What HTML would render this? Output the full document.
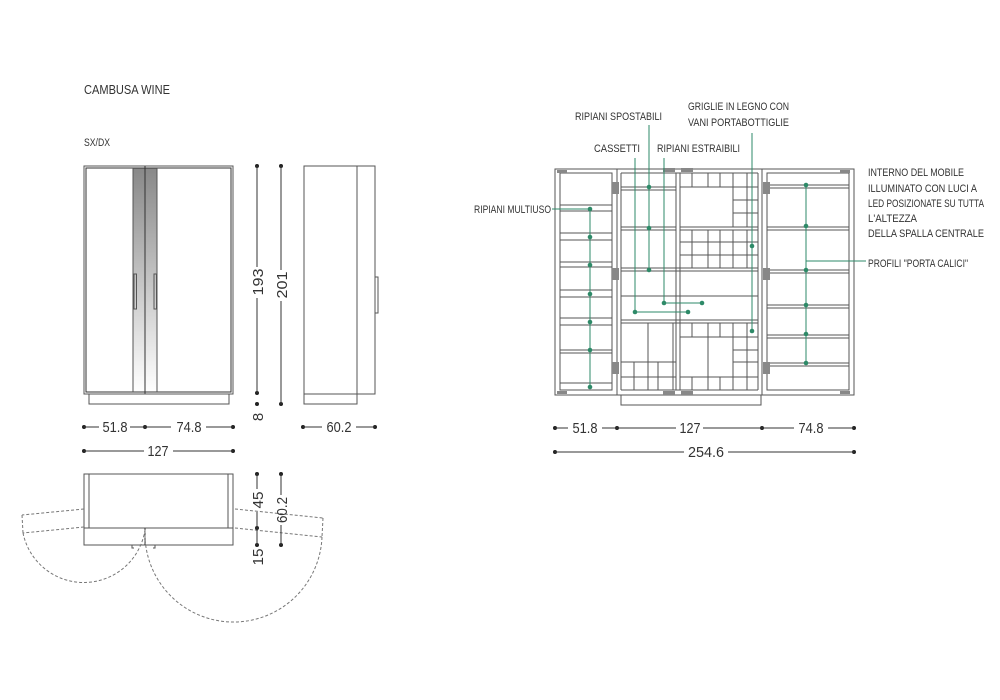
<!DOCTYPE html>
<html><head><meta charset="utf-8"><style>
html,body{margin:0;padding:0;background:#fff;}
svg{display:block;}
.t{font-family:"Liberation Sans",sans-serif;fill:#333;}
.d{font-family:"Liberation Sans",sans-serif;fill:#333;font-size:15px;}
.l{stroke:#555;stroke-width:1;fill:none;}
.k{stroke:#333;stroke-width:1;fill:none;}
.g{stroke:#2e8a68;stroke-width:1;fill:none;}
.gd{fill:#2e8a68;}
.dl{stroke:#333;stroke-width:1;}
</style></head><body>
<svg width="1000" height="700" viewBox="0 0 1000 700" xmlns="http://www.w3.org/2000/svg">
<rect width="1000" height="700" fill="#fff"/>
<text class="t" x="84" y="94" font-size="12.5" textLength="86" lengthAdjust="spacingAndGlyphs">CAMBUSA WINE</text>
<text class="t" x="84" y="146" font-size="11" textLength="26" lengthAdjust="spacingAndGlyphs">SX/DX</text>

<!-- FRONT VIEW -->
<defs><linearGradient id="gr" x1="0" y1="0" x2="0" y2="1"><stop offset="0" stop-color="#888"/><stop offset="1" stop-color="#fff"/></linearGradient></defs>
<rect x="133" y="168" width="24" height="224" fill="url(#gr)"/>
<rect class="l" x="84" y="166" width="149" height="228" stroke="#777"/>
<rect class="k" x="86" y="168" width="145" height="224" stroke-width="1.3"/>
<line class="k" x1="145" y1="166" x2="145" y2="394" stroke-width="1.3"/>
<line class="l" x1="133" y1="168" x2="133" y2="392"/>
<line class="l" x1="157" y1="168" x2="157" y2="392"/>
<rect class="l" x="134" y="274" width="2.5" height="35"/>
<rect class="l" x="154" y="274" width="2.5" height="35"/>
<rect class="l" x="89" y="394" width="140" height="10"/>

<g fill="#222">
<circle cx="257" cy="166" r="2"/><circle cx="257" cy="393" r="2"/><circle cx="257" cy="404" r="2"/>
<circle cx="281" cy="166" r="2"/><circle cx="281" cy="404" r="2"/>
</g>
<line class="dl" x1="257" y1="166" x2="257" y2="267"/><line class="dl" x1="257" y1="298" x2="257" y2="393"/>
<line class="dl" x1="281" y1="166" x2="281" y2="270"/><line class="dl" x1="281" y1="301" x2="281" y2="404"/>
<text class="d" transform="translate(263,282) rotate(-90)" text-anchor="middle" textLength="27" lengthAdjust="spacingAndGlyphs">193</text>
<text class="d" transform="translate(287,285) rotate(-90)" text-anchor="middle" textLength="27" lengthAdjust="spacingAndGlyphs">201</text>
<text class="d" transform="translate(263,417) rotate(-90)" text-anchor="middle">8</text>

<!-- SIDE VIEW -->
<rect class="l" x="304" y="166" width="53" height="228"/>
<rect class="l" x="357" y="166" width="18" height="228"/>
<rect class="l" x="304" y="394" width="53" height="10"/>
<rect class="l" x="375" y="277" width="3" height="36"/>

<g fill="#222">
<circle cx="84" cy="427" r="2"/><circle cx="145" cy="427" r="2"/><circle cx="233" cy="427" r="2"/>
<circle cx="303" cy="427" r="2"/><circle cx="375" cy="427" r="2"/>
<circle cx="84" cy="451" r="2"/><circle cx="233" cy="451" r="2"/>
</g>
<line class="dl" x1="84" y1="427" x2="99" y2="427"/><line class="dl" x1="130" y1="427" x2="171" y2="427"/><line class="dl" x1="206" y1="427" x2="233" y2="427"/>
<line class="dl" x1="303" y1="427" x2="322" y2="427"/><line class="dl" x1="356" y1="427" x2="375" y2="427"/>
<line class="dl" x1="84" y1="451" x2="144" y2="451"/><line class="dl" x1="173" y1="451" x2="233" y2="451"/>
<text class="d" x="115" y="432" text-anchor="middle" textLength="25" lengthAdjust="spacingAndGlyphs">51.8</text>
<text class="d" x="189" y="432" text-anchor="middle" textLength="25" lengthAdjust="spacingAndGlyphs">74.8</text>
<text class="d" x="339" y="432" text-anchor="middle" textLength="25" lengthAdjust="spacingAndGlyphs">60.2</text>
<text class="d" x="158" y="456" text-anchor="middle" textLength="21" lengthAdjust="spacingAndGlyphs">127</text>

<!-- PLAN VIEW -->
<rect class="l" x="84" y="474" width="149" height="54"/>
<line class="l" x1="89" y1="474" x2="89" y2="528"/><line class="l" x1="228" y1="474" x2="228" y2="528"/>
<rect class="l" x="84" y="528" width="149" height="17"/>
<line class="k" x1="145" y1="528" x2="145" y2="545"/>
<path class="l" d="M132 545 v3 h2 M155 545 v3 h-2"/>
<g stroke="#777" stroke-dasharray="3,2" fill="none">
<line x1="84" y1="509" x2="22" y2="515"/><line x1="84" y1="527" x2="23" y2="533"/><line x1="22" y1="515" x2="23" y2="533"/>
<line x1="235" y1="509" x2="323" y2="518"/><line x1="235" y1="528" x2="322" y2="537"/><line x1="323" y1="518" x2="322" y2="537"/>
<path d="M23 533 A62 62 0 0 0 145 530"/>
<path d="M145 530 A88 88 0 0 0 322 537"/>
</g>
<g fill="#222">
<circle cx="257" cy="474" r="2"/><circle cx="257" cy="528" r="2"/><circle cx="257" cy="545" r="2"/>
<circle cx="281" cy="474" r="2"/><circle cx="281" cy="545" r="2"/>
</g>
<line class="dl" x1="257" y1="474" x2="257" y2="489"/><line class="dl" x1="257" y1="512" x2="257" y2="545"/>
<line class="dl" x1="281" y1="474" x2="281" y2="495"/><line class="dl" x1="281" y1="525" x2="281" y2="545"/>
<text class="d" transform="translate(263,500) rotate(-90)" text-anchor="middle" textLength="17" lengthAdjust="spacingAndGlyphs">45</text>
<text class="d" transform="translate(287,510) rotate(-90)" text-anchor="middle" textLength="26" lengthAdjust="spacingAndGlyphs">60.2</text>
<text class="d" transform="translate(263,557) rotate(-90)" text-anchor="middle" textLength="17" lengthAdjust="spacingAndGlyphs">15</text>

<!-- RIGHT: OPEN CABINET -->
<g stroke="#555" fill="none" stroke-width="1">
<rect x="555" y="169" width="62" height="226"/>
<rect x="560" y="173" width="52" height="217"/>
<rect x="617" y="169" width="145" height="226"/>
<rect x="762" y="169" width="92" height="226"/>
<rect x="767" y="173" width="82" height="217"/>
<rect x="621" y="395" width="140" height="10"/>
<line x1="621" y1="173" x2="621" y2="390"/><line x1="758" y1="173" x2="758" y2="390"/>
<line x1="621" y1="173" x2="758" y2="173"/><line x1="621" y1="390" x2="758" y2="390"/>
<line x1="676" y1="173" x2="676" y2="390"/><line x1="680" y1="173" x2="680" y2="390"/>
<path d="M560 205h52M560 211h52M560 233h52M560 240h52M560 262h52M560 267h52M560 290h52M560 297h52M560 318h52M560 325h52M560 350h52M560 353h52M560 383h52"/>
<path d="M767 185h82M767 188h82M767 227h82M767 230h82M767 270h82M767 273h82M767 305h82M767 308h82M767 335h82M767 338h82M767 363h82M767 366h82"/>
<path d="M621 187h55M621 190h55M621 227h55M621 230h55M621 268h137M621 271h137"/>
<rect x="621" y="296" width="137" height="24"/>
<path d="M621 323h137"/>
<path d="M648 323v67M673 323v67M621 362h55M621 377h55M634 362v28M658 362v28"/>
<path d="M680 187h78M692 173v14M708 173v14M720 173v14M733 173v14M747 173v14"/>
<path d="M733 187v40M747 187v40M733 200h25M733 213h25"/>
<path d="M680 227h78M680 230h78M692 230v38M708 230v38M720 230v38M733 230v38M747 230v38M680 242h78M680 255h78"/>
<path d="M692 323v14M708 323v67M720 323v14M733 323v67M747 323v67M680 337h78M733 350h25M733 362h25M680 377h78M692 377v13M720 377v13"/>
</g>
<g fill="#888">
<rect x="612" y="182" width="7" height="12"/><rect x="612" y="268" width="7" height="12"/><rect x="612" y="362" width="7" height="12"/>
<rect x="763" y="182" width="7" height="12"/><rect x="763" y="268" width="7" height="12"/><rect x="763" y="362" width="7" height="12"/>
<rect x="663" y="168" width="12" height="4"/><rect x="681" y="168" width="12" height="4"/>
<rect x="663" y="391" width="12" height="4"/><rect x="681" y="391" width="12" height="4"/>
<rect x="557" y="170" width="10" height="3"/><rect x="840" y="170" width="10" height="3"/>
<rect x="557" y="391" width="10" height="3"/><rect x="840" y="391" width="10" height="3"/>
</g>

<g class="g">
<line x1="590" y1="209" x2="590" y2="387"/><line x1="552" y1="209" x2="590" y2="209"/>
<line x1="649" y1="125" x2="649" y2="270"/>
<line x1="635" y1="158" x2="635" y2="312"/><line x1="635" y1="312" x2="688" y2="312"/>
<line x1="664" y1="158" x2="664" y2="303"/><line x1="664" y1="303" x2="702" y2="303"/>
<line x1="752" y1="133" x2="752" y2="331"/>
<line x1="806" y1="185" x2="806" y2="363"/><line x1="806" y1="261" x2="866" y2="261"/>
</g>
<g class="gd">
<circle cx="590" cy="209" r="2.3"/><circle cx="590" cy="237" r="2.3"/><circle cx="590" cy="265" r="2.3"/><circle cx="590" cy="294" r="2.3"/><circle cx="590" cy="322" r="2.3"/><circle cx="590" cy="350" r="2.3"/><circle cx="590" cy="387" r="2.3"/>
<circle cx="649" cy="187" r="2.3"/><circle cx="649" cy="228" r="2.3"/><circle cx="649" cy="270" r="2.3"/>
<circle cx="635" cy="312" r="2.3"/><circle cx="688" cy="312" r="2.3"/>
<circle cx="664" cy="303" r="2.3"/><circle cx="702" cy="303" r="2.3"/>
<circle cx="752" cy="246" r="2.3"/><circle cx="752" cy="331" r="2.3"/>
<circle cx="806" cy="185" r="2.3"/><circle cx="806" cy="226" r="2.3"/><circle cx="806" cy="270" r="2.3"/><circle cx="806" cy="305" r="2.3"/><circle cx="806" cy="334" r="2.3"/><circle cx="806" cy="363" r="2.3"/>
</g>

<g class="t" font-size="11">
<text x="575" y="120" textLength="87" lengthAdjust="spacingAndGlyphs">RIPIANI SPOSTABILI</text>
<text x="688" y="110" textLength="101" lengthAdjust="spacingAndGlyphs">GRIGLIE IN LEGNO CON</text>
<text x="688" y="126" textLength="101" lengthAdjust="spacingAndGlyphs">VANI PORTABOTTIGLIE</text>
<text x="594" y="152" textLength="46" lengthAdjust="spacingAndGlyphs">CASSETTI</text>
<text x="657" y="152" textLength="83" lengthAdjust="spacingAndGlyphs">RIPIANI ESTRAIBILI</text>
<text x="474" y="213" textLength="77" lengthAdjust="spacingAndGlyphs">RIPIANI MULTIUSO</text>
<text x="868" y="176" textLength="96" lengthAdjust="spacingAndGlyphs">INTERNO DEL MOBILE</text>
<text x="868" y="192" textLength="109" lengthAdjust="spacingAndGlyphs">ILLUMINATO CON LUCI A</text>
<text x="868" y="207" textLength="116" lengthAdjust="spacingAndGlyphs">LED POSIZIONATE SU TUTTA</text>
<text x="868" y="222" textLength="49" lengthAdjust="spacingAndGlyphs">L'ALTEZZA</text>
<text x="868" y="237" textLength="116" lengthAdjust="spacingAndGlyphs">DELLA SPALLA CENTRALE</text>
<text x="868" y="267" textLength="100" lengthAdjust="spacingAndGlyphs">PROFILI "PORTA CALICI"</text>
</g>

<g fill="#222">
<circle cx="555" cy="428" r="2"/><circle cx="617" cy="428" r="2"/><circle cx="762" cy="428" r="2"/><circle cx="854" cy="428" r="2"/>
<circle cx="555" cy="452" r="2"/><circle cx="854" cy="452" r="2"/>
</g>
<line class="dl" x1="555" y1="428" x2="568" y2="428"/><line class="dl" x1="602" y1="428" x2="676" y2="428"/><line class="dl" x1="703" y1="428" x2="794" y2="428"/><line class="dl" x1="828" y1="428" x2="854" y2="428"/>
<line class="dl" x1="555" y1="452" x2="684" y2="452"/><line class="dl" x1="728" y1="452" x2="854" y2="452"/>
<text class="d" x="585" y="433" text-anchor="middle" textLength="25" lengthAdjust="spacingAndGlyphs">51.8</text>
<text class="d" x="690" y="433" text-anchor="middle" textLength="21" lengthAdjust="spacingAndGlyphs">127</text>
<text class="d" x="811" y="433" text-anchor="middle" textLength="25" lengthAdjust="spacingAndGlyphs">74.8</text>
<text class="d" x="706" y="457" text-anchor="middle" textLength="36" lengthAdjust="spacingAndGlyphs">254.6</text>
</svg>
</body></html>
